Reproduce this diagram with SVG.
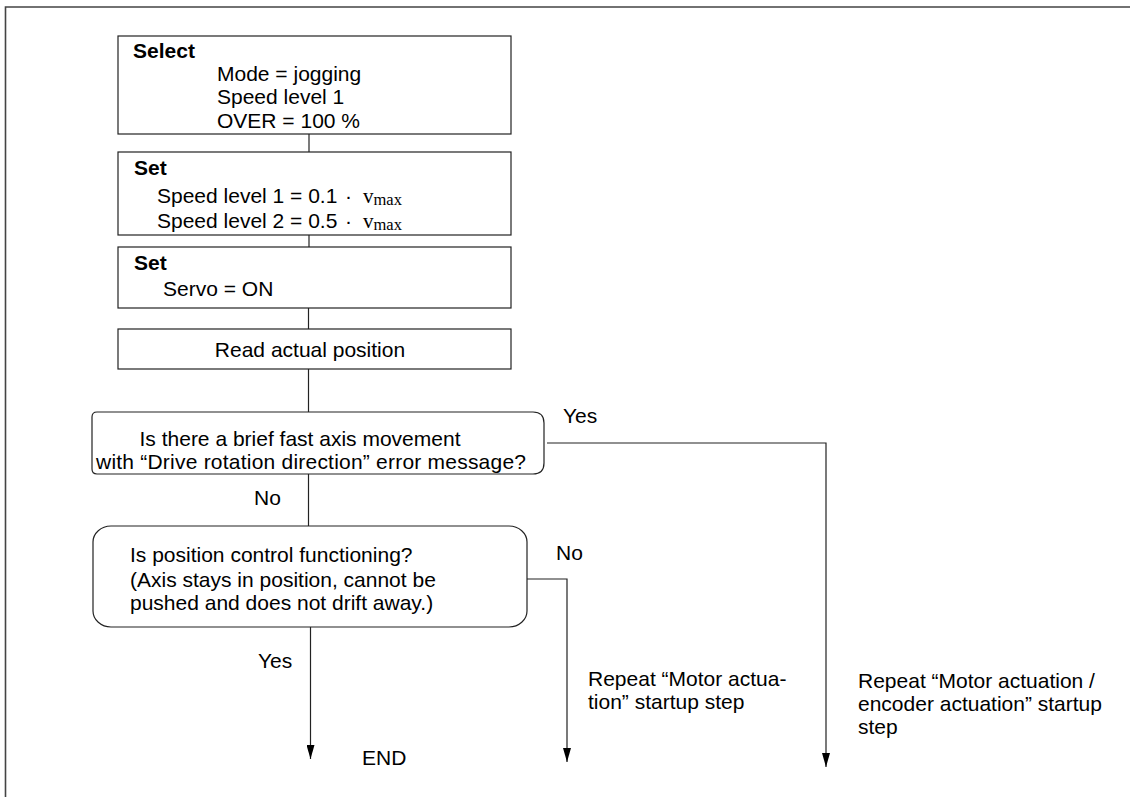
<svg xmlns="http://www.w3.org/2000/svg" width="1130" height="797" viewBox="0 0 1130 797">
  <style>
    text { font-family: "Liberation Sans", Arial, sans-serif; font-size: 21px; fill: #000; }
    .b { font-weight: bold; }
    .serif { font-family: "Liberation Serif", "Times New Roman", serif; }
    .box { fill: #fff; stroke: #222; stroke-width: 1.2; }
    .frame { fill: none; stroke: #444; stroke-width: 1.6; }
    .conn { fill: none; stroke: #222; stroke-width: 1.2; }
  </style>
  <defs>
    <!-- solid triangular arrowhead, tip at the end of the line -->
    <marker id="arrowDown" markerWidth="14" markerHeight="8" refX="14" refY="4" orient="auto" markerUnits="userSpaceOnUse" viewBox="0 0 14 8">
      <path d="M0,0 L14,4 L0,8 Z" fill="#000"/>
    </marker>
  </defs>

  <!-- page frame (top and left rules) -->
  <path class="frame" d="M5.5,797 L5.5,7 L1130,7"/>

  <!-- connectors -->
  <g id="connectors">
    <line class="conn" x1="309" y1="134" x2="309" y2="152"/>
    <line class="conn" x1="309" y1="235" x2="309" y2="247"/>
    <line class="conn" x1="308.5" y1="308" x2="308.5" y2="329"/>
    <line class="conn" x1="308.5" y1="369" x2="308.5" y2="412"/>
    <line class="conn" x1="308.5" y1="474" x2="308.5" y2="526"/>
    <line class="conn" x1="310.5" y1="627" x2="310.5" y2="759" marker-end="url(#arrowDown)"/>
    <polyline class="conn" points="527,579 567,579 567,762" marker-end="url(#arrowDown)"/>
    <polyline class="conn" points="547,443 826,443 826,767" marker-end="url(#arrowDown)"/>
    <text x="254" y="505">No</text>
    <text x="563" y="423">Yes</text>
    <text x="556" y="560">No</text>
    <text x="258" y="668">Yes</text>
  </g>

  <g id="select">
    <rect class="box" x="118" y="36" width="393" height="98"/>
    <text class="b" x="133" y="58">Select</text>
    <text x="217" y="81">Mode = jogging</text>
    <text x="217" y="104">Speed level 1</text>
    <text x="217" y="128">OVER = 100 %</text>
  </g>

  <g id="set-speed">
    <rect class="box" x="118" y="152" width="393" height="83"/>
    <text class="b" x="134" y="175">Set</text>
    <text x="157" y="203">Speed level 1 = 0.1</text>
    <text x="345" y="203">·</text>
    <text class="serif" x="363" y="203" font-size="19">v<tspan font-size="16.5" dy="2">max</tspan></text>
    <text x="157" y="228">Speed level 2 = 0.5</text>
    <text x="345" y="228">·</text>
    <text class="serif" x="363" y="228" font-size="19">v<tspan font-size="16.5" dy="2">max</tspan></text>
  </g>

  <g id="set-servo">
    <rect class="box" x="118" y="247" width="393" height="61"/>
    <text class="b" x="134" y="270">Set</text>
    <text x="163" y="296">Servo = ON</text>
  </g>

  <g id="read-position">
    <rect class="box" x="118" y="329" width="393" height="40"/>
    <text x="310" y="357" text-anchor="middle">Read actual position</text>
  </g>

  <g id="decision-rotation">
    <path class="box" d="M97,412 L533,412 Q544,412 544,423 L544,463 Q544,474 533,474 L97,474 Q92,474 92,469 L92,417 Q92,412 97,412 Z"/>
    <text x="300" y="446" text-anchor="middle">Is there a brief fast axis movement</text>
    <text x="96" y="469" textLength="430" lengthAdjust="spacing">with “Drive rotation direction” error message?</text>
  </g>

  <g id="decision-position">
    <rect class="box" x="93" y="526" width="434" height="101" rx="18" ry="16"/>
    <text x="130" y="562">Is position control functioning?</text>
    <text x="130" y="587">(Axis stays in position, cannot be</text>
    <text x="130" y="610">pushed and does not drift away.)</text>
  </g>

  <g id="end">
    <text x="362" y="765">END</text>
  </g>

  <g id="repeat-motor">
    <text x="588" y="686">Repeat “Motor actua-</text>
    <text x="588" y="709">tion” startup step</text>
  </g>

  <g id="repeat-encoder">
    <text x="858" y="688">Repeat “Motor actuation /</text>
    <text x="858" y="711">encoder actuation” startup</text>
    <text x="858" y="734">step</text>
  </g>
</svg>
